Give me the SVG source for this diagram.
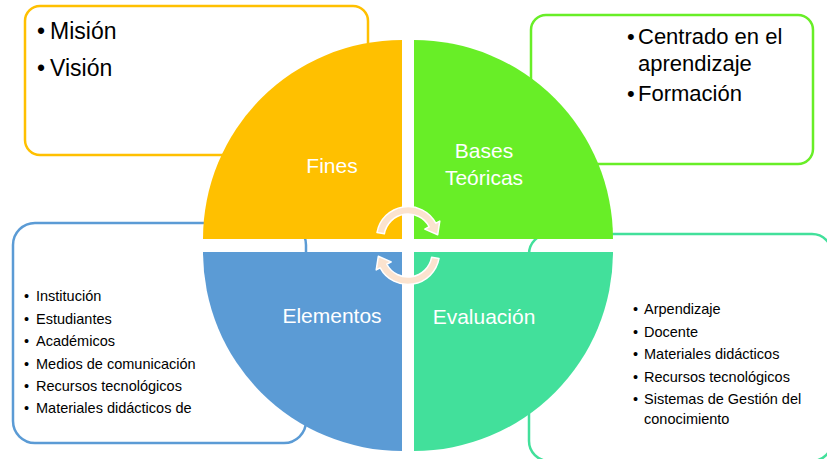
<svg xmlns="http://www.w3.org/2000/svg" width="827" height="459" viewBox="0 0 827 459">
<style>
.box{fill:#FFFFFF;stroke-width:2.5}
.big{font-family:"Liberation Sans",Arial,sans-serif;font-size:22px;fill:#000000}
.small{font-family:"Liberation Sans",Arial,sans-serif;font-size:14.5px;fill:#000000}
.lbl{font-family:"Liberation Sans",Arial,sans-serif;font-size:21px;fill:#FFFFFF;text-anchor:middle}
.arrow{fill:#FBE3CF;stroke:#FFFFFF;stroke-width:1.5;stroke-linejoin:round}
</style>
<rect width="827" height="459" fill="#FFFFFF"/>
<g id="box-fines">
<rect class="box" x="25" y="6" width="343" height="149" rx="15" stroke="#FFC000"/>
<text class="big" style="font-size:23px" y="39"><tspan x="37">•</tspan><tspan x="50">Misión</tspan></text>
<text class="big" style="font-size:23px" y="76"><tspan x="37">•</tspan><tspan x="50">Visión</tspan></text>
</g>
<g id="box-bases">
<rect class="box" x="531" y="15" width="282" height="149" rx="15" stroke="#68EE27"/>
<text class="big" y="44"><tspan x="627">•</tspan><tspan x="638">Centrado en el</tspan></text>
<text class="big" x="638" y="71">aprendizaje</text>
<text class="big" y="101"><tspan x="627">•</tspan><tspan x="638">Formación</tspan></text>
</g>
<g id="box-elementos">
<rect class="box" x="13" y="223" width="293" height="220" rx="22" stroke="#5B9BD5"/>
<text class="small" y="301"><tspan x="24">•</tspan><tspan x="36">Institución</tspan></text>
<text class="small" y="324"><tspan x="24">•</tspan><tspan x="36">Estudiantes</tspan></text>
<text class="small" y="346"><tspan x="24">•</tspan><tspan x="36">Académicos</tspan></text>
<text class="small" y="369"><tspan x="24">•</tspan><tspan x="36">Medios de comunicación</tspan></text>
<text class="small" y="391"><tspan x="24">•</tspan><tspan x="36">Recursos tecnológicos</tspan></text>
<text class="small" y="413"><tspan x="24">•</tspan><tspan x="36">Materiales didácticos de</tspan></text>
</g>
<g id="box-evaluacion">
<rect class="box" x="529" y="234" width="303" height="227" rx="20" stroke="#42E09B"/>
<text class="small" y="314"><tspan x="633">•</tspan><tspan x="644">Arpendizaje</tspan></text>
<text class="small" y="337"><tspan x="633">•</tspan><tspan x="644">Docente</tspan></text>
<text class="small" y="359"><tspan x="633">•</tspan><tspan x="644">Materiales didácticos</tspan></text>
<text class="small" y="382"><tspan x="633">•</tspan><tspan x="644">Recursos tecnológicos</tspan></text>
<text class="small" y="404"><tspan x="633">•</tspan><tspan x="644">Sistemas de Gestión del</tspan></text>
<text class="small" x="644" y="424">conocimiento</text>
</g>
<g id="q-fines">
<path d="M402 239 L203 239 A199 199 0 0 1 402 40 Z" fill="#FFC000"/>
<text class="lbl" x="332" y="173">Fines</text>
</g>
<g id="q-bases">
<path d="M414 239 L414 40 A199 199 0 0 1 613 239 Z" fill="#68EE27"/>
<text class="lbl" x="484" y="158">Bases</text>
<text class="lbl" x="484" y="185">Teóricas</text>
</g>
<g id="q-elementos">
<path d="M402 252 L402 451 A199 199 0 0 1 203 252 Z" fill="#5B9BD5"/>
<text class="lbl" x="332" y="323">Elementos</text>
</g>
<g id="q-evaluacion">
<path d="M414 252 L613 252 A199 199 0 0 1 414 451 Z" fill="#42E09B"/>
<text class="lbl" x="484" y="324">Evaluación</text>
</g>
<g id="connectors">
<path id="arrow-top" class="arrow" d="M376.98 232.53 A31.5 31.5 0 0 1 435.81 223.21 L439.78 221.1 L437.7 234.7 L424.78 229.08 L429.19 226.73 A24 24 0 0 0 384.36 233.83 Z"/>
<path id="arrow-bottom" class="arrow" transform="rotate(180 408 245.5)" d="M376.98 232.53 A31.5 31.5 0 0 1 435.81 223.21 L439.78 221.1 L437.7 234.7 L424.78 229.08 L429.19 226.73 A24 24 0 0 0 384.36 233.83 Z"/>
</g>
</svg>
